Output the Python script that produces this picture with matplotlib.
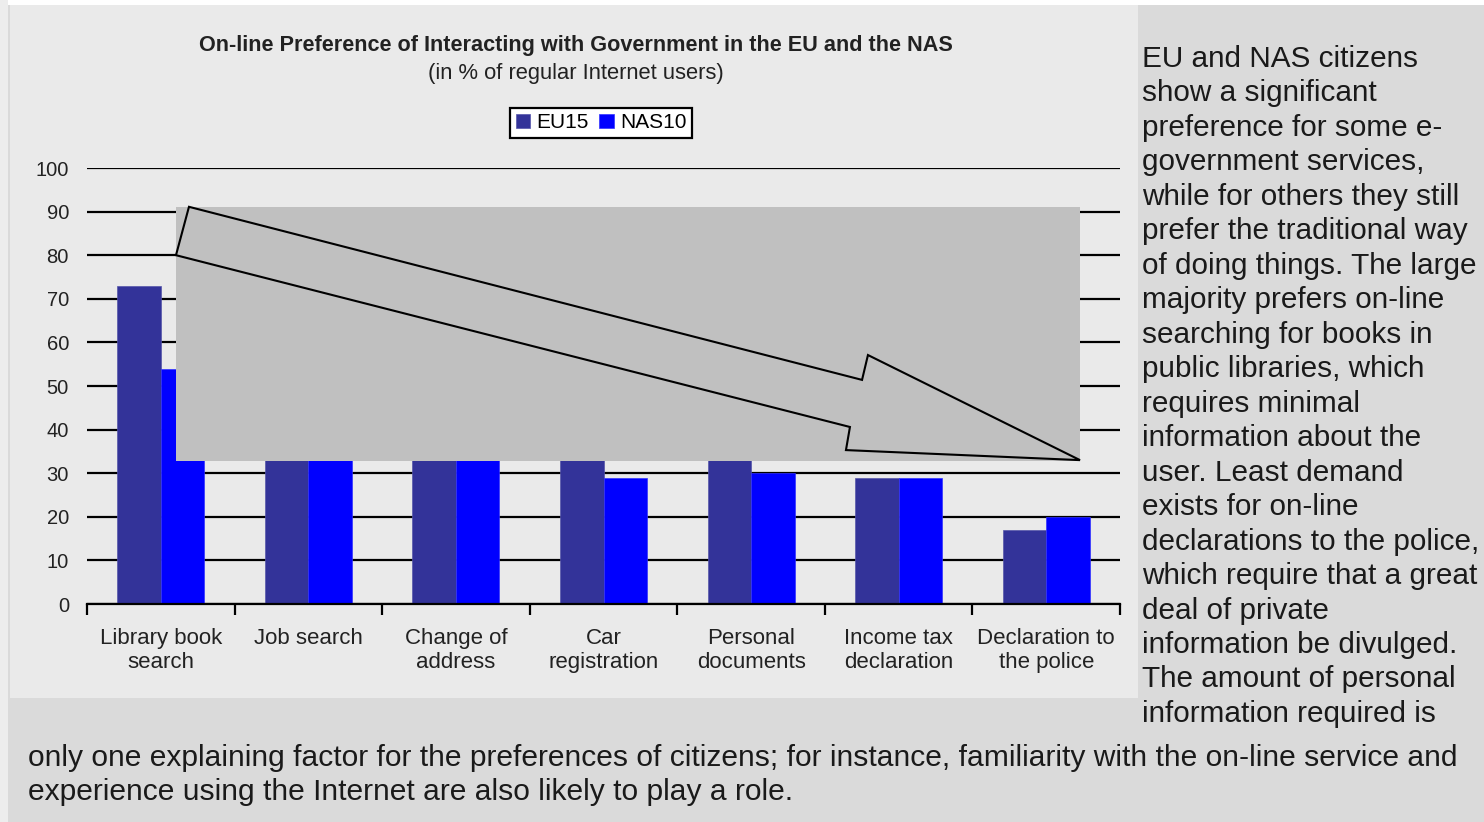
import matplotlib
matplotlib.use("Agg")
import matplotlib.pyplot as plt
from matplotlib.patches import Rectangle, Polygon
import numpy as np

plt.rcParams['font.family'] = ['Liberation Sans', 'DejaVu Sans']

categories = ["Library book\nsearch", "Job search", "Change of\naddress", "Car\nregistration",
              "Personal\ndocuments", "Income tax\ndeclaration", "Declaration to\nthe police"]
eu15 = [73, 52, 47, 41, 38, 29, 17]
nas10 = [54, 45, 44, 29, 30, 29, 20]

title = "On-line Preference of Interacting with Government in the EU and the NAS"
subtitle = "(in % of regular Internet users)"

side_lines = [
    "EU and NAS citizens",
    "show a significant",
    "preference for some e-",
    "government services,",
    "while for others they still",
    "prefer the traditional way",
    "of doing things. The large",
    "majority prefers on-line",
    "searching for books in",
    "public libraries, which",
    "requires minimal",
    "information about the",
    "user. Least demand",
    "exists for on-line",
    "declarations to the police,",
    "which require that a great",
    "deal of private",
    "information be divulged.",
    "The amount of personal",
    "information required is",
]
bottom_lines = [
    "only one explaining factor for the preferences of citizens; for instance, familiarity with the on-line service and",
    "experience using the Internet are also likely to play a role.",
]

W, H = 1484, 822
fig = plt.figure(figsize=(W / 100, H / 100), dpi=100, facecolor='#dadada')

# background panels (pixel boxes -> figure fraction)
def px_rect(x0, y0, x1, y1, color):
    fig.patches.append(Rectangle((x0 / W, 1 - y1 / H), (x1 - x0) / W, (y1 - y0) / H,
                                 transform=fig.transFigure, facecolor=color,
                                 edgecolor='none', zorder=-10))

px_rect(0, 0, W, 5, 'white')
px_rect(0, 0, 8, H, '#ededed')
px_rect(10, 5, 1138, 698, '#eaeaea')

ax = fig.add_axes([87 / W, 1 - 604 / H, (1120 - 87) / W, (604 - 168) / H])
ax.set_facecolor('none')

x = np.arange(len(categories))
w = 0.295
b1 = ax.bar(x - w / 2, eu15, w, color='#333399', edgecolor='#5555aa', linewidth=0.5,
            label='EU15', zorder=3)
b2 = ax.bar(x + w / 2, nas10, w, color='#0000ff', edgecolor='#3333ff', linewidth=0.5,
            label='NAS10', zorder=3)

ax.set_xlim(-0.5, len(categories) - 0.5)
ax.set_ylim(0, 100)
ax.set_yticks(np.arange(0, 101, 10))
ax.yaxis.grid(True, color='black', linewidth=1.6, zorder=0)
ax.set_axisbelow(True)
for s in ['left', 'right', 'top']:
    ax.spines[s].set_visible(False)
ax.spines['bottom'].set_linewidth(1.6)
ax.spines['bottom'].set_zorder(4)

ax.set_xticks(x)
ax.set_xticklabels(categories, fontsize=16, color='#222222', linespacing=1.2)
ax.set_xticks(np.arange(-0.5, len(categories)), minor=True)
ax.tick_params(axis='x', which='major', length=0, pad=17)
ax.tick_params(axis='x', which='minor', length=8, width=1.6, direction='out', color='black')
ax.tick_params(axis='y', length=0, pad=13, labelsize=14.5, labelcolor='#222222')

# grey overlay box with the trend arrow
box_x0, box_x1, box_y0, box_y1 = 0.103, 6.229, 32.8, 91.1
ax.add_patch(Rectangle((box_x0, box_y0), box_x1 - box_x0, box_y1 - box_y0,
                       facecolor='#c0c0c0', edgecolor='none', zorder=5))
arrow_pts = [(0.191, 91.1), (4.752, 51.4), (4.792, 57.1), (6.229, 33.0),
             (4.643, 35.3), (4.670, 40.6), (0.103, 80.0)]
ax.add_patch(Polygon(arrow_pts, closed=True, facecolor='#c0c0c0', edgecolor='black',
                     linewidth=1.5, zorder=6, joinstyle='miter'))

fig.text(576 / W, 1 - 46 / H, title, ha='center', va='center', fontsize=15.6,
         fontweight='bold', color='#222222')
fig.text(576 / W, 1 - 74 / H, subtitle, ha='center', va='center', fontsize=15.8,
         color='#222222')

leg = ax.legend(handles=[b1, b2], loc='center', bbox_to_anchor=(601 / W, 1 - 123 / H),
                bbox_transform=fig.transFigure, ncol=2, fontsize=15, frameon=True,
                fancybox=False, edgecolor='black', facecolor='white', framealpha=1,
                handlelength=0.7, handleheight=0.7, handletextpad=0.3,
                columnspacing=0.5, borderpad=0.25, borderaxespad=0)
leg.get_frame().set_linewidth(1.6)

for i, line in enumerate(side_lines):
    fig.text(1142 / W, 1 - (67 + 34.47 * i) / H, line, ha='left', va='baseline',
             fontsize=21.4, color='#1a1a1a')
for i, line in enumerate(bottom_lines):
    fig.text(28 / W, 1 - (766 + 34 * i) / H, line, ha='left', va='baseline',
             fontsize=21.6, color='#1a1a1a')

fig.savefig('out.png', dpi=100, facecolor=fig.get_facecolor())
